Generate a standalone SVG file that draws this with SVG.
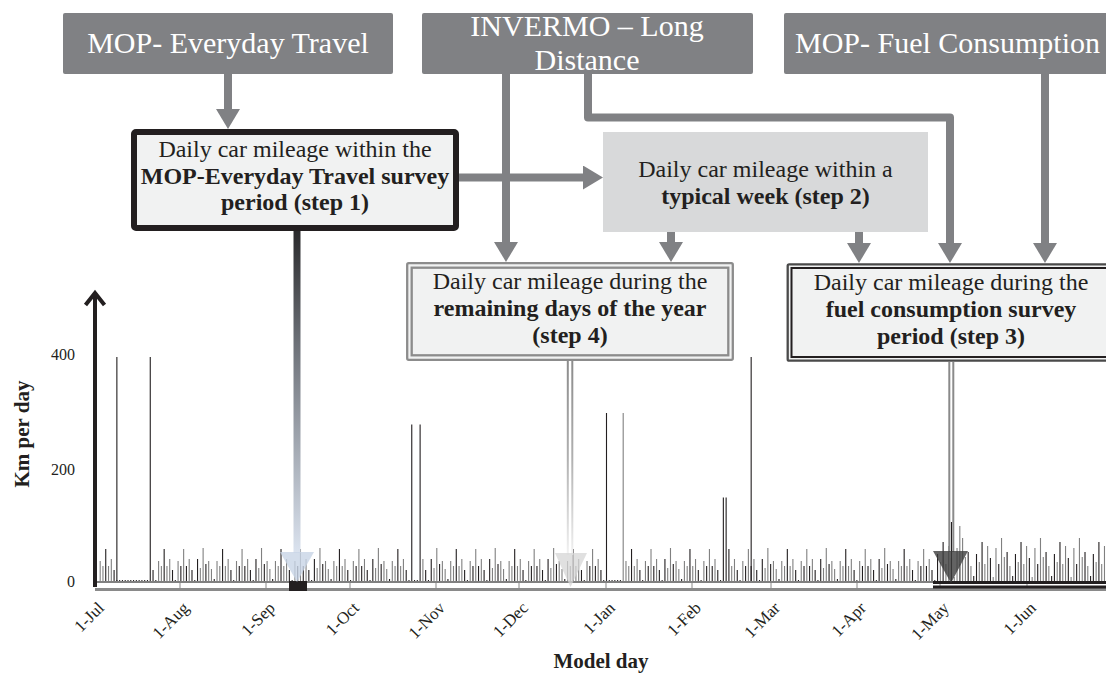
<svg xmlns="http://www.w3.org/2000/svg" width="1106" height="677" viewBox="0 0 1106 677">
<defs>
<style>
.src{fill:#808184}
.srct{font-family:"Liberation Serif","Times New Roman",serif;font-size:30px;fill:#ffffff;text-anchor:middle}
.t{font-family:"Liberation Serif","Times New Roman",serif;font-size:24px;fill:#231f20;text-anchor:middle}
.b{font-weight:bold}
.conn{fill:none;stroke:#808184;stroke-width:8;stroke-linejoin:round;marker-end:url(#ah)}
.bk{fill:none;stroke:#231f20;stroke-width:1.1}
.gy{fill:none;stroke:#808080;stroke-width:1.1}
.ax{font-family:"Liberation Serif","Times New Roman",serif;font-size:16px;fill:#231f20;text-anchor:end}
.mo{font-family:"Liberation Serif","Times New Roman",serif;font-size:17px;fill:#231f20;text-anchor:end}
.ttl{font-family:"Liberation Serif","Times New Roman",serif;font-size:21px;font-weight:bold;fill:#231f20;text-anchor:middle}
.tick{stroke:#8a8a8a;stroke-width:1}
</style>
<marker id="ah" markerUnits="userSpaceOnUse" markerWidth="20" markerHeight="24" viewBox="0 0 20 24" refX="0" refY="12" orient="auto"><path d="M0,0L20,12L0,24Z" fill="#808184"/></marker>
<linearGradient id="g1" x1="0" y1="0" x2="0" y2="1"><stop offset="0" stop-color="#2a2a2c"/><stop offset="0.35" stop-color="#6d7178"/><stop offset="1" stop-color="#dbe3ef"/></linearGradient>
<linearGradient id="g4" x1="0" y1="0" x2="0" y2="1"><stop offset="0" stop-color="#8c8c8c"/><stop offset="0.5" stop-color="#b0b0b0"/><stop offset="1" stop-color="#f2f2f2"/></linearGradient>
<g id="wA"><path class="gy" d="M0,582v-21M2.78,582v-16M8.35,582v-16M11.13,582v-23"/><path class="bk" d="M5.56,582v-33M13.91,582v-12M16.69,582v-2"/></g>
<g id="wB"><path class="gy" d="M0,582v-21M5.56,582v-33M11.13,582v-23"/><path class="bk" d="M2.78,582v-16M8.35,582v-16M13.91,582v-12M16.69,582v-2"/></g>
<g id="wC"><path class="bk" d="M0,582v-23M8.35,582v-18M16.69,582v-3"/><path class="gy" d="M2.78,582v-14M5.56,582v-34M11.13,582v-21M13.91,582v-13"/></g>
<g id="wT"><path class="bk" d="M0,582v-2M2.78,582v-2M5.56,582v-2M8.35,582v-2M11.13,582v-2M13.91,582v-2M16.69,582v-2"/></g>
<g id="wM1"><path class="bk" d="M0,582v-28M5.56,582v-40M13.91,582v-24"/><path class="gy" d="M2.78,582v-20M8.35,582v-18M11.13,582v-36M16.69,582v-5"/></g>
<g id="wM2"><path class="gy" d="M0,582v-34M5.56,582v-44M8.35,582v-25M13.91,582v-16"/><path class="bk" d="M2.78,582v-18M11.13,582v-30M16.69,582v-6"/></g>
</defs>
<rect width="1106" height="677" fill="#ffffff"/>

<g id="chart">
<g id="bars">
<use href="#wA" x="100.18"/>
<use href="#wT" x="119.65"/>
<use href="#wA" x="158.60"/>
<use href="#wB" x="178.08"/>
<use href="#wC" x="197.55"/>
<use href="#wA" x="217.02"/>
<use href="#wB" x="236.50"/>
<use href="#wC" x="255.97"/>
<use href="#wA" x="275.45"/>
<use href="#wB" x="294.92"/>
<use href="#wC" x="314.39"/>
<use href="#wA" x="333.87"/>
<use href="#wB" x="353.34"/>
<use href="#wC" x="372.82"/>
<use href="#wA" x="392.29"/>
<use href="#wC" x="431.24"/>
<use href="#wA" x="450.71"/>
<use href="#wB" x="470.19"/>
<use href="#wC" x="489.66"/>
<use href="#wA" x="509.13"/>
<use href="#wB" x="528.61"/>
<use href="#wC" x="548.08"/>
<use href="#wA" x="567.56"/>
<use href="#wB" x="587.03"/>
<use href="#wA" x="625.98"/>
<use href="#wB" x="645.45"/>
<use href="#wC" x="664.93"/>
<use href="#wA" x="684.40"/>
<use href="#wB" x="703.87"/>
<use href="#wB" x="742.82"/>
<use href="#wC" x="762.30"/>
<use href="#wA" x="781.77"/>
<use href="#wB" x="801.24"/>
<use href="#wC" x="820.72"/>
<use href="#wA" x="840.19"/>
<use href="#wB" x="859.67"/>
<use href="#wC" x="879.14"/>
<use href="#wA" x="898.61"/>
<use href="#wB" x="918.09"/>
<use href="#wM1" x="937.56"/>
<use href="#wM2" x="957.04"/>
<use href="#wM1" x="976.51"/>
<use href="#wM2" x="995.98"/>
<use href="#wM1" x="1015.46"/>
<use href="#wM2" x="1034.93"/>
<use href="#wM1" x="1054.41"/>
<use href="#wM2" x="1073.88"/>
<use href="#wM1" x="1093.35"/>
<path class="bk" d="M116.87,582V357"/>
<path class="bk" d="M139.13,582v-2M141.91,582v-2M144.69,582v-2M147.48,582v-2M150.26,582V357M153.04,582v-12M155.82,582v-2"/>
<path class="bk" d="M411.76,582V424.5M414.54,582v-2M417.32,582v-2M420.11,582V424.5M425.67,582v-12M428.45,582v-2"/>
<path class="gy" d="M422.89,582v-23"/>
<path class="bk" d="M606.5,582V413M609.28,582v-2M612.06,582v-2M614.85,582v-2M617.63,582v-2M620.41,582v-2"/>
<path class="gy" d="M623.19,582V413"/>
<path class="bk" d="M723.35,582V497.6M726.13,582V497.6M728.91,582v-33M737.26,582v-12M740.04,582v-2"/>
<path class="gy" d="M731.7,582v-16M734.48,582v-23"/>
<path class="bk" d="M751.17,582V357"/>
<path class="bk" d="M951.47,582v-60"/>
<path class="gy" d="M959.82,582v-56"/>
</g>
<g id="x-axis">
<rect x="95" y="581" width="1011" height="2" fill="#808080"/>
<rect x="95" y="588" width="1011" height="3" fill="#8a8a8a"/>
<path class="tick" d="M180,583V588M266,583V588M350,583V588M436,583V588M519,583V588M606,583V588M692,583V588M771,583V588M857,583V588M940,583V588M1027,583V588"/>
<rect x="289" y="581" width="18" height="10" fill="#231f20"/>
<rect x="933" y="581" width="173" height="3" fill="#231f20"/>
<rect x="933" y="585.5" width="173" height="3" fill="#231f20"/>
</g>
<g id="y-axis">
<line x1="95" y1="587" x2="95" y2="294" stroke="#231f20" stroke-width="4"/>
<polyline points="85.5,305 95,293 104.5,305" fill="none" stroke="#231f20" stroke-width="4"/>
<text class="ax" x="75" y="360">400</text>
<text class="ax" x="75" y="475">200</text>
<text class="ax" x="75" y="587">0</text>
<text class="ttl" transform="translate(29,434) rotate(-90)">Km per day</text>
</g>
<g id="month-labels">
<text class="mo" transform="translate(105,609) rotate(-45)">1-Jul</text>
<text class="mo" transform="translate(190,609) rotate(-45)">1-Aug</text>
<text class="mo" transform="translate(276,609) rotate(-45)">1-Sep</text>
<text class="mo" transform="translate(360,609) rotate(-45)">1-Oct</text>
<text class="mo" transform="translate(446,609) rotate(-45)">1-Nov</text>
<text class="mo" transform="translate(529,609) rotate(-45)">1-Dec</text>
<text class="mo" transform="translate(616,609) rotate(-45)">1-Jan</text>
<text class="mo" transform="translate(702,609) rotate(-45)">1-Feb</text>
<text class="mo" transform="translate(781,609) rotate(-45)">1-Mar</text>
<text class="mo" transform="translate(867,609) rotate(-45)">1-Apr</text>
<text class="mo" transform="translate(950,609) rotate(-45)">1-May</text>
<text class="mo" transform="translate(1037,609) rotate(-45)">1-Jun</text>
</g>
<text class="ttl" x="601" y="668">Model day</text>
</g>

<g id="connectors">
<path class="conn" d="M228,74V109"/>
<path class="conn" d="M506,74V242"/>
<path class="conn" d="M588,74V117.5H950V243"/>
<path class="conn" d="M459,177.5H583"/>
<path class="conn" d="M671,232V242"/>
<path class="conn" d="M859,232V243"/>
<path class="conn" d="M1045,74V243"/>
<rect x="293.5" y="231" width="7" height="322" fill="url(#g1)"/>
<polygon points="280,552 314,552 297,582" fill="#c8d4e6" fill-opacity="0.8"/>
<rect x="566.8" y="361" width="2" height="194" fill="url(#g4)"/>
<rect x="571.3" y="361" width="2" height="194" fill="url(#g4)"/>
<polygon points="555,553 587,553 570.5,587" fill="#d6d6d6" fill-opacity="0.75"/>
<rect x="948.3" y="362" width="2" height="190" fill="#8a8a8a"/>
<rect x="952.3" y="362" width="2" height="190" fill="#8a8a8a"/>
<polygon points="933,551 968,551 951,583" fill="#3c3c3c" fill-opacity="0.8"/>
</g>

<g id="src-mop-everyday">
<rect class="src" x="63" y="13" width="330" height="61" rx="2"/>
<text class="srct" x="228" y="53">MOP- Everyday Travel</text>
</g>
<g id="src-invermo">
<rect class="src" x="422" y="13" width="331" height="61" rx="2"/>
<text class="srct" x="587" y="36">INVERMO – Long</text>
<text class="srct" x="587" y="70">Distance</text>
</g>
<g id="src-mop-fuel">
<rect class="src" x="784" y="13" width="330" height="61" rx="2"/>
<text class="srct" x="795" y="53" style="text-anchor:start">MOP- Fuel Consumption</text>
</g>

<g id="step1">
<rect x="134" y="132" width="322" height="96" rx="2" fill="#f1f2f2" stroke="#231f20" stroke-width="6"/>
<text class="t" x="295" y="157">Daily car mileage within the</text>
<text class="t b" x="295" y="184">MOP-Everyday Travel survey</text>
<text class="t b" x="295" y="210">period (step 1)</text>
</g>
<g id="step2">
<rect x="603" y="132" width="325" height="100" fill="#d8d9da"/>
<text class="t" x="765.5" y="177">Daily car mileage within a</text>
<text class="t b" x="765.5" y="204">typical week (step 2)</text>
</g>
<g id="step4">
<rect x="407.2" y="263.2" width="325.6" height="96.6" rx="1.5" fill="#f1f2f2" stroke="#8c8c8c" stroke-width="2.3"/>
<rect x="411.7" y="267.7" width="316.6" height="87.6" fill="none" stroke="#8c8c8c" stroke-width="2.3"/>
<text class="t" x="570" y="289">Daily car mileage during the</text>
<text class="t b" x="570" y="316">remaining days of the year</text>
<text class="t b" x="570" y="343">(step 4)</text>
</g>
<g id="step3">
<rect x="787.7" y="264.3" width="330" height="96.4" rx="1.5" fill="#f1f2f2" stroke="#4a4a4a" stroke-width="2.3"/>
<rect x="791.5" y="268" width="330" height="89" fill="none" stroke="#231f20" stroke-width="2"/>
<text class="t" x="951" y="290">Daily car mileage during the</text>
<text class="t b" x="951" y="317">fuel consumption survey</text>
<text class="t b" x="951" y="344">period (step 3)</text>
</g>
</svg>
